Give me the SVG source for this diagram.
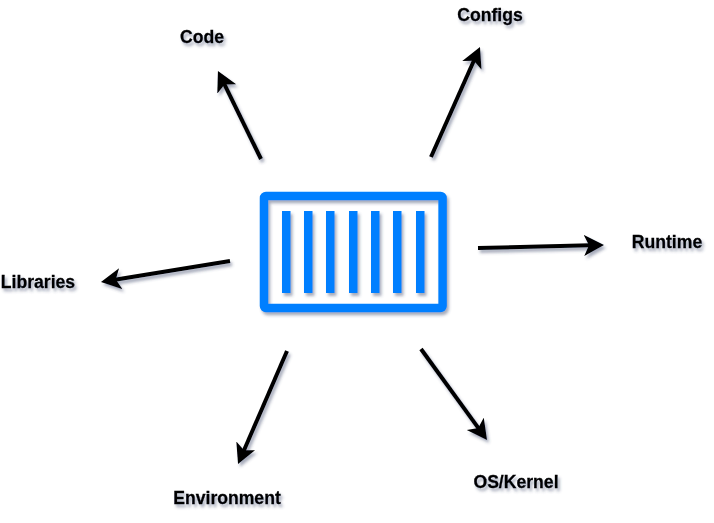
<svg xmlns="http://www.w3.org/2000/svg" width="714" height="523" viewBox="0 0 714 523">
<style>
.lbl{font-family:"Liberation Sans",Arial,sans-serif;font-size:17.6px;font-weight:bold;fill:#000;stroke:#000;stroke-width:.3;text-anchor:middle;filter:url(#sh)}
.c{stroke:#000;stroke-width:4;fill:none;marker-end:url(#ah)}
.bar{fill:#007fff}
</style>
<defs>
<filter id="sh" x="-30%" y="-50%" width="170%" height="220%"><feDropShadow dx="2" dy="3" stdDeviation="1.5" flood-color="#3c4668" flood-opacity="0.45"/></filter>
<marker id="ah" markerUnits="userSpaceOnUse" markerWidth="26" markerHeight="24" refX="6" refY="10.5" orient="auto"><path d="M0 0L20 10.5L0 21L5 10.5Z" fill="#000"/></marker>
</defs>
<rect width="714" height="523" fill="#fff"/>
<g id="connectors" filter="url(#sh)">
<path class="c" d="M261 159L224.1 83.6"/>
<path class="c" d="M431 157L474.3 59.8"/>
<path class="c" d="M478 248L590 245.3"/>
<path class="c" d="M230 261L114.8 279.7"/>
<path class="c" d="M287 351L243.6 451.2"/>
<path class="c" d="M421 349L478.8 428.7"/>
</g>
<g id="container" filter="url(#sh)">
<rect x="264" y="196" width="178.6" height="112" rx="2" fill="none" stroke="#007fff" stroke-width="8.5"/>
<rect class="bar" x="282" y="211" width="8.5" height="82"/>
<rect class="bar" x="304" y="211" width="8.5" height="82"/>
<rect class="bar" x="326" y="211" width="8.5" height="82"/>
<rect class="bar" x="349" y="211" width="8.5" height="82"/>
<rect class="bar" x="371" y="211" width="8.5" height="82"/>
<rect class="bar" x="393" y="211" width="8.5" height="82"/>
<rect class="bar" x="416" y="211" width="8.5" height="82"/>
</g>
<g id="code"><text class="lbl" x="202" y="43">Code</text></g>
<g id="configs"><text class="lbl" x="490" y="21">Configs</text></g>
<g id="runtime"><text class="lbl" x="667" y="248">Runtime</text></g>
<g id="libraries"><text class="lbl" x="38" y="288">Libraries</text></g>
<g id="environment"><text class="lbl" x="227" y="504">Environment</text></g>
<g id="oskernel"><text class="lbl" x="516" y="488">OS/Kernel</text></g>
</svg>
